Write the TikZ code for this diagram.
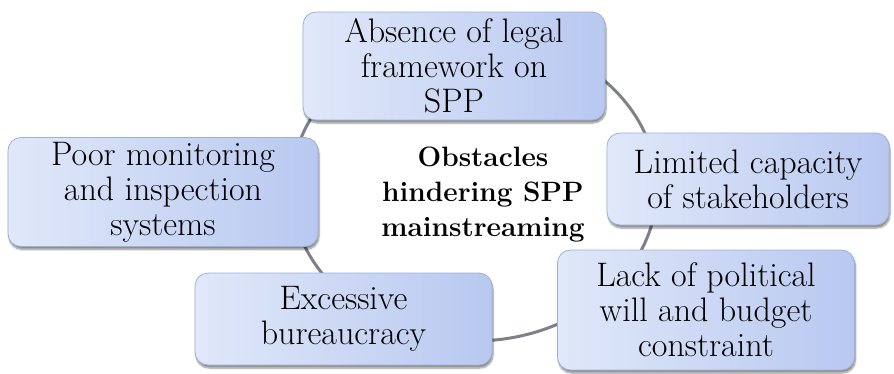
\documentclass[tikz,border=0pt]{standalone}
\usetikzlibrary{shadows.blur}
\definecolor{boxlight}{RGB}{224,232,249}
\definecolor{boxdark}{RGB}{184,200,240}
\definecolor{boxedge}{RGB}{158,176,218}
\definecolor{ringgrey}{RGB}{125,129,136}
\tikzset{
  obstacle/.style={
    draw=boxedge, line width=0.8pt, rounded corners=13pt,
    left color=boxlight, right color=boxdark,
    blur shadow={shadow xshift=1pt, shadow yshift=-3pt, shadow blur steps=6, shadow opacity=45},
    align=center, inner sep=0pt,
    font=\fontsize{34}{35}\selectfont},
  hub/.style={align=center, font=\fontsize{28}{35}\selectfont\bfseries},
  ring/.style={draw=ringgrey, line width=3pt}
}
\begin{document}
\begin{tikzpicture}[x=1pt,y=-1pt]
\useasboundingbox (0,0) rectangle (894,373);
% the ring that links the five obstacles
\draw[ring] (474,188) ellipse [x radius=183, y radius=153];
% central caption
\node[hub] (hubtext) at (483,195) {Obstacles\\hindering SPP\\mainstreaming};
% the five obstacle boxes
\node[obstacle, minimum width=302pt, minimum height=108pt] (legal) at (454,66)
  {Absence of legal\\framework on\\SPP};
\node[obstacle, minimum width=282pt, minimum height=92pt] (capacity) at (748,179)
  {Limited capacity\\of stakeholders};
\node[obstacle, minimum width=297pt, minimum height=120pt] (political) at (706,310)
  {Lack of political\\will and budget\\constraint};
\node[obstacle, minimum width=297pt, minimum height=92pt] (bureau) at (343.5,319)
  {Excessive\\bureaucracy};
\node[obstacle, minimum width=310pt, minimum height=109pt] (monitor) at (163,192)
  {Poor monitoring\\and inspection\\systems};
\end{tikzpicture}
\end{document}
